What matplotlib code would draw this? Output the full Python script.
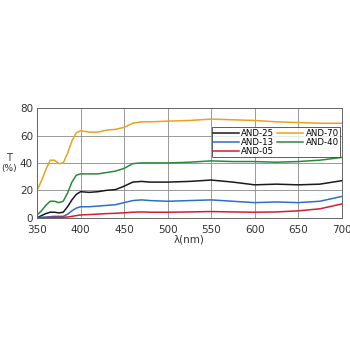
import matplotlib.pyplot as plt

wl = [350, 355, 360, 365, 370, 375, 380, 385, 390, 395, 400, 410, 420, 430, 440,
      450, 460, 470, 480, 500, 525, 550, 575, 600, 625, 650, 675, 700]

and70 = [20, 27, 35, 42, 42, 39.5, 40, 47, 56, 62, 63.5, 62.5, 62.5, 64, 64.5,
         66, 69, 70, 70, 70.5, 71, 72, 71.5, 71, 70, 69.5, 69, 69]
and40 = [2, 5, 9, 12, 12, 11, 12, 18, 26, 31, 32, 32, 32, 33, 34,
         36, 39.5, 40, 40, 40, 40.5, 41.5, 41, 41, 40.5, 41, 42, 44]
and25 = [0, 1.5, 3, 4, 4, 3.5, 4, 8, 13, 17, 19, 18.5, 19, 20, 20.5,
         23, 26, 26.5, 26, 26, 26.5, 27.5, 26, 24, 24.5, 24, 24.5, 27]
and13 = [0, 0.3, 0.5, 0.7, 1, 1, 1, 2.5, 5, 7, 8, 8, 8.5, 9, 9.5,
         11, 12.5, 13, 12.5, 12, 12.5, 13, 12, 11, 11.5, 11, 12, 15.5]
and05 = [0, 0, 0, 0.2, 0.3, 0.3, 0.3, 0.5, 1, 1.5, 2, 2.3, 2.6, 3, 3.2,
         3.6, 4, 4.2, 4, 4, 4.2, 4.5, 4.2, 4, 4.2, 5, 6.5, 10]

series = [
    ("AND-25", and25, "#1a1a1a"),
    ("AND-13", and13, "#2f6fc0"),
    ("AND-05", and05, "#d0202e"),
    ("AND-70", and70, "#eaa21f"),
    ("AND-40", and40, "#2a8a3c"),
]

fig = plt.figure(figsize=(3.5, 3.5), dpi=100)
ax = fig.add_axes([0.106, 0.378, 0.87, 0.313])

for name, vals, color in series:
    ax.plot(wl, vals, color=color, lw=1.1, label=name)

ax.set_xlim(350, 700)
ax.set_ylim(0, 80)
ax.set_xticks(range(350, 701, 50))
ax.set_yticks(range(0, 81, 20))
ax.grid(True, color="#8a8a8a", lw=0.6)
ax.tick_params(length=0, labelsize=7.5, colors="#333333")
ax.tick_params(axis="x", pad=5)
ax.tick_params(axis="y", pad=3)
for s in ax.spines.values():
    s.set_color("#666666")
    s.set_linewidth(0.7)

ax.set_xlabel("λ(nm)", fontsize=7.5, color="#333333", labelpad=0)
# axis title sits just left of the tick labels, straddling the 40 line
fig.text(9 / 350, 1 - 158 / 350, "T", ha="center", va="center",
         fontsize=7, color="#333333")
fig.text(9 / 350, 1 - 168 / 350, "(%)", ha="center", va="center",
         fontsize=6.5, color="#333333")

leg = ax.legend(ncol=2, loc="upper right", bbox_to_anchor=(1.0, 0.84),
                fontsize=6.2, frameon=True, fancybox=False, handlelength=3.0,
                handletextpad=0.3, columnspacing=0.3, labelspacing=0.0,
                borderpad=0.15, borderaxespad=0.2)
leg.get_frame().set_edgecolor("#333333")
leg.get_frame().set_linewidth(0.7)

fig.savefig("out.png", dpi=100)
